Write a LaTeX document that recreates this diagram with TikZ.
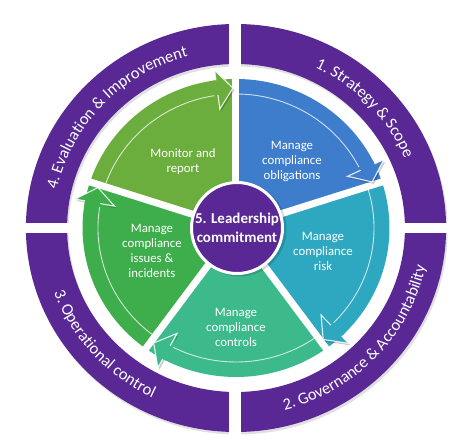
\documentclass[tikz,border=0pt]{standalone}
\usepackage{fontspec}
\setmainfont{Carlito}
\usetikzlibrary{decorations.text}
\definecolor{ringpurple}{RGB}{90,40,148}
\definecolor{cMon}{RGB}{108,174,62}
\definecolor{cObl}{RGB}{62,125,204}
\definecolor{cRisk}{RGB}{46,168,192}
\definecolor{cCtrl}{RGB}{60,186,140}
\definecolor{cIss}{RGB}{62,174,76}
\newcommand\ringfnt{\fontsize{16.5}{16.5}\selectfont}
\newcommand\amp{\&}
\begin{document}
\begin{tikzpicture}[x=1pt,y=1pt,
  lbl/.style={text=white, align=center, font=\fontsize{12.8}{15}\selectfont, inner sep=0pt},
  gapline/.style={white, line width=7pt},
  bandline/.style={white, opacity=.75, line width=0.9pt},
  headline/.style={white, opacity=.85, line width=1.1pt, line join=miter}]
\useasboundingbox (-236,-216) rectangle (238,228);
\begin{scope}[xscale=1.03]
  % outer ring with soft shadow
  \fill[black, opacity=.12, even odd rule] (1.5,-2.5) circle (204) (1.5,-2.5) circle (164);
  \fill[ringpurple, even odd rule] (0,0) circle (204) (0,0) circle (164);
  \fill[white] (-7,-230) rectangle (5,230);
  \fill[white] (-250,-5) rectangle (250,5);
  % ring texts
  \path[decorate, decoration={text along path, text align=center, text color=white,
     text={|\ringfnt|4. Evaluation {\amp} Improvement}}]
     (176:178) arc[start angle=176, end angle=97, radius=178];
  \path[decorate, decoration={text along path, text align=center, text color=white,
     text={|\ringfnt|1. Strategy {\amp} Scope}}]
     (83:178) arc[start angle=83, end angle=4, radius=178];
  \path[decorate, decoration={text along path, text align=center, text color=white,
     text={|\ringfnt|2. Governance {\amp} Accountability}}]
     (-87:188) arc[start angle=-87, end angle=0, radius=188];
  \path[decorate, decoration={text along path, text align=center, text color=white,
     text={|\ringfnt|3. Operational control}}]
     (-178:188) arc[start angle=-178, end angle=-98, radius=188];
  % pie sectors
  \foreach \a/\e/\c in {162/90/cMon, 90/18/cObl, 18/-54/cRisk, -54/-126/cCtrl, -126/-198/cIss}{
    \fill[\c] (0,0) -- (\a:149) arc[start angle=\a, end angle=\e, radius=149] -- cycle;
    \draw[bandline] (\a:134) arc[start angle=\a, end angle={\e+7}, radius=134];
  }
  \foreach \g in {90,18,-54,-126,162}{
    \draw[gapline] (0,0) -- (\g:162);
  }
  % arrow heads
  \foreach \e/\c in {90/cMon, 18/cObl, -54/cRisk, -126/cCtrl, -198/cIss}{
    \fill[black, opacity=.2] ([shift={(1.5,-2)}]{\e+7.5}:120) -- ([shift={(1.5,-2)}]{\e+1.2}:140) -- ([shift={(1.5,-2)}]{\e+7.5}:159) -- cycle;
    \fill[\c] ({\e+7.5}:120) -- ({\e+1.2}:140) -- ({\e+7.5}:159) -- ({\e+7.5}:149) arc[start angle={\e+7.5}, end angle={\e+9}, radius=149] -- ({\e+9}:134) -- cycle;
    \draw[headline] ({\e+7.5}:134) -- ({\e+7.5}:120) -- ({\e+1.2}:140) -- ({\e+7.5}:159) -- ({\e+7.5}:149);
  }
\end{scope}
\fill[black, opacity=.15] (3.5,-1.5) circle (47);
\node[circle, fill=ringpurple, draw=white, line width=3pt, minimum size=91pt, inner sep=0pt,
      text=white, align=center, font=\bfseries\fontsize{15}{18.5}\selectfont] (lead) at (1,0) {5. Leadership\\commitment};
\node[lbl] (mon) at (-53,66.5) {Monitor and\\report};
\node[lbl] (obl) at (56,67) {Manage\\compliance\\obligations};
\node[lbl] (risk) at (87,-23) {Manage\\compliance\\risk};
\node[lbl] (ctrl) at (0,-99) {Manage\\compliance\\controls};
\node[lbl] (iss) at (-84,-23) {Manage\\compliance\\issues \&\\incidents};
\end{tikzpicture}
\end{document}
